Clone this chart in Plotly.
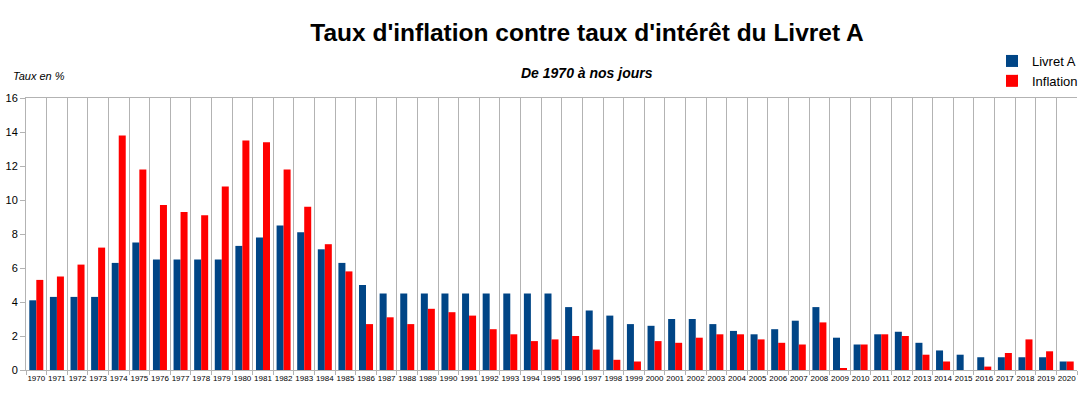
import plotly.graph_objects as go

years = [str(y) for y in range(1970, 2021)]
livret_a = [4.1, 4.3, 4.3, 4.3, 6.3, 7.5, 6.5, 6.5, 6.5, 6.5,
            7.3, 7.8, 8.5, 8.1, 7.1, 6.3, 5.0, 4.5, 4.5, 4.5,
            4.5, 4.5, 4.5, 4.5, 4.5, 4.5, 3.7, 3.5, 3.2, 2.7,
            2.6, 3.0, 3.0, 2.7, 2.3, 2.1, 2.4, 2.9, 3.7, 1.9,
            1.5, 2.1, 2.25, 1.6, 1.15, 0.9, 0.75, 0.75, 0.75, 0.75,
            0.5]
inflation = [5.3, 5.5, 6.2, 7.2, 13.8, 11.8, 9.7, 9.3, 9.1, 10.8,
             13.5, 13.4, 11.8, 9.6, 7.4, 5.8, 2.7, 3.1, 2.7, 3.6,
             3.4, 3.2, 2.4, 2.1, 1.7, 1.8, 2.0, 1.2, 0.6, 0.5,
             1.7, 1.6, 1.9, 2.1, 2.1, 1.8, 1.6, 1.5, 2.8, 0.1,
             1.5, 2.1, 2.0, 0.9, 0.5, 0.0, 0.2, 1.0, 1.8, 1.1,
             0.5]

W, H = 1086, 395
PL, PR, PT, PB = 26, 1077, 98, 370   # plot area in page px
paper_w = W - PL                     # paper spans to the right edge
ph = PB - PT


def px_x(x):
    return (x - PL) / paper_w


def px_y(y):
    return (PB - y) / ph


fig = go.Figure()
fig.add_trace(go.Bar(x=years, y=livret_a, name="Livret A",
                     marker=dict(color="#004586", line=dict(width=0))))
fig.add_trace(go.Bar(x=years, y=inflation, name="Inflation",
                     marker=dict(color="#ff0000", line=dict(width=0))))

fig.update_layout(
    width=W, height=H,
    margin=dict(l=PL, r=0, t=PT, b=H - PB, pad=0),
    paper_bgcolor="white", plot_bgcolor="white",
    font=dict(family="Liberation Sans, Arial, sans-serif", color="#000000"),
    barmode="group", bargap=0.32, bargroupgap=0,
    title=dict(text="<b>Taux d'inflation contre taux d'intérêt du Livret A</b>",
               xref="container", yref="container",
               x=587 / W, xanchor="center",
               y=1 - 32 / H, yanchor="middle",
               font=dict(size=24.5, color="#000000")),
    legend=dict(x=px_x(992), y=px_y(46), xanchor="left", yanchor="top",
                font=dict(size=13), bgcolor="rgba(0,0,0,0)",
                tracegroupgap=0, itemwidth=30),
    showlegend=True,
    annotations=[
        dict(text="<b><i>De 1970 à nos jours</i></b>", xref="paper", yref="paper",
             x=px_x(587), y=px_y(73), xanchor="center", yanchor="middle",
             showarrow=False, font=dict(size=14, color="#000000")),
        dict(text="<i>Taux en %</i>", xref="paper", yref="paper",
             x=px_x(11), y=px_y(76), xanchor="left", yanchor="middle",
             showarrow=False, font=dict(size=11, color="#000000")),
    ],
)

fig.update_xaxes(
    type="category", tickson="boundaries", automargin=False,
    domain=[0, px_x(PR)],
    showgrid=True, gridcolor="#b3b3b3", gridwidth=1,
    ticks="outside", ticklen=4, tickcolor="#b3b3b3",
    showline=True, linecolor="#b3b3b3", mirror=True,
    tickfont=dict(size=8), tickangle=0,
)
fig.update_yaxes(
    range=[0, 16], dtick=2, showgrid=False, automargin=False,
    ticks="outside", ticklen=5, tickcolor="#b3b3b3",
    showline=True, linecolor="#b3b3b3",
    tickfont=dict(size=11), zeroline=False,
)

fig.write_html("out.html",
               config={"displayModeBar": False},
               post_script="document.body.style.margin='0';document.body.style.overflow='hidden';")
